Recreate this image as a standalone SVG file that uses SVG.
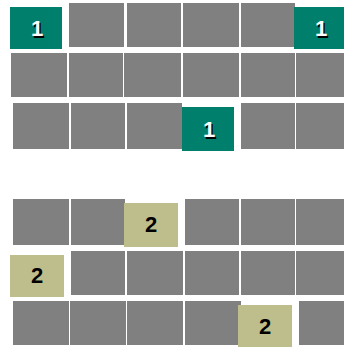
<svg xmlns="http://www.w3.org/2000/svg" width="344" height="349" viewBox="0 0 344 349">
<style>
.t{fill:#808080}
.g{fill:#007f6d}
.b{fill:#bdbe8b}
.n{font-family:"Liberation Sans",Arial,sans-serif;font-weight:bold;font-size:22px;text-anchor:middle}
.w{fill:#ffffff}
.s{fill:#000000}
</style>
<rect width="344" height="349" fill="#ffffff"/>
<g id="tiles">
<rect class="t" x="69" y="3" width="55" height="44"/>
<rect class="t" x="127" y="3" width="54" height="44"/>
<rect class="t" x="183" y="3" width="56" height="44"/>
<rect class="t" x="241" y="3" width="54" height="44"/>
<rect class="t" x="11" y="53" width="56" height="44"/>
<rect class="t" x="69" y="53" width="54" height="44"/>
<rect class="t" x="124" y="53" width="57" height="44"/>
<rect class="t" x="183" y="53" width="56" height="44"/>
<rect class="t" x="241" y="53" width="54" height="44"/>
<rect class="t" x="296" y="53" width="48" height="44"/>
<rect class="t" x="13" y="103" width="56" height="46"/>
<rect class="t" x="71" y="103" width="54" height="46"/>
<rect class="t" x="127" y="103" width="55" height="46"/>
<rect class="t" x="241" y="103" width="54" height="46"/>
<rect class="t" x="296" y="103" width="48" height="46"/>
<rect class="t" x="13" y="199" width="56" height="46"/>
<rect class="t" x="71" y="199" width="54" height="46"/>
<rect class="t" x="185" y="199" width="54" height="46"/>
<rect class="t" x="241" y="199" width="54" height="46"/>
<rect class="t" x="296" y="199" width="48" height="46"/>
<rect class="t" x="71" y="251" width="54" height="44"/>
<rect class="t" x="127" y="251" width="56" height="44"/>
<rect class="t" x="185" y="251" width="54" height="44"/>
<rect class="t" x="241" y="251" width="54" height="44"/>
<rect class="t" x="296" y="251" width="48" height="44"/>
<rect class="t" x="13" y="301" width="56" height="44"/>
<rect class="t" x="70" y="301" width="56" height="44"/>
<rect class="t" x="127" y="301" width="56" height="44"/>
<rect class="t" x="185" y="301" width="56" height="44"/>
<rect class="t" x="299" y="301" width="45" height="44"/>
</g>
<g id="n1a">
<rect class="g" x="10" y="7" width="52" height="42"/>
<text class="n s" x="38.5" y="37.5">1</text>
<text class="n w" x="37" y="36">1</text>
</g>
<g id="n1b">
<rect class="g" x="294" y="7" width="50" height="42"/>
<text class="n s" x="322.5" y="37.5">1</text>
<text class="n w" x="321" y="36">1</text>
</g>
<g id="n1c">
<rect class="g" x="182" y="107" width="52" height="44"/>
<text class="n s" x="210.5" y="138.5">1</text>
<text class="n w" x="209" y="137">1</text>
</g>
<g id="n2a">
<rect class="b" x="124" y="203" width="54" height="44"/>
<text class="n s" x="151" y="232">2</text>
</g>
<g id="n2b">
<rect class="b" x="10" y="255" width="54" height="42"/>
<text class="n s" x="37" y="283">2</text>
</g>
<g id="n2c">
<rect class="b" x="238" y="305" width="54" height="42"/>
<text class="n s" x="265" y="334">2</text>
</g>
<g id="connectors"></g>
</svg>
